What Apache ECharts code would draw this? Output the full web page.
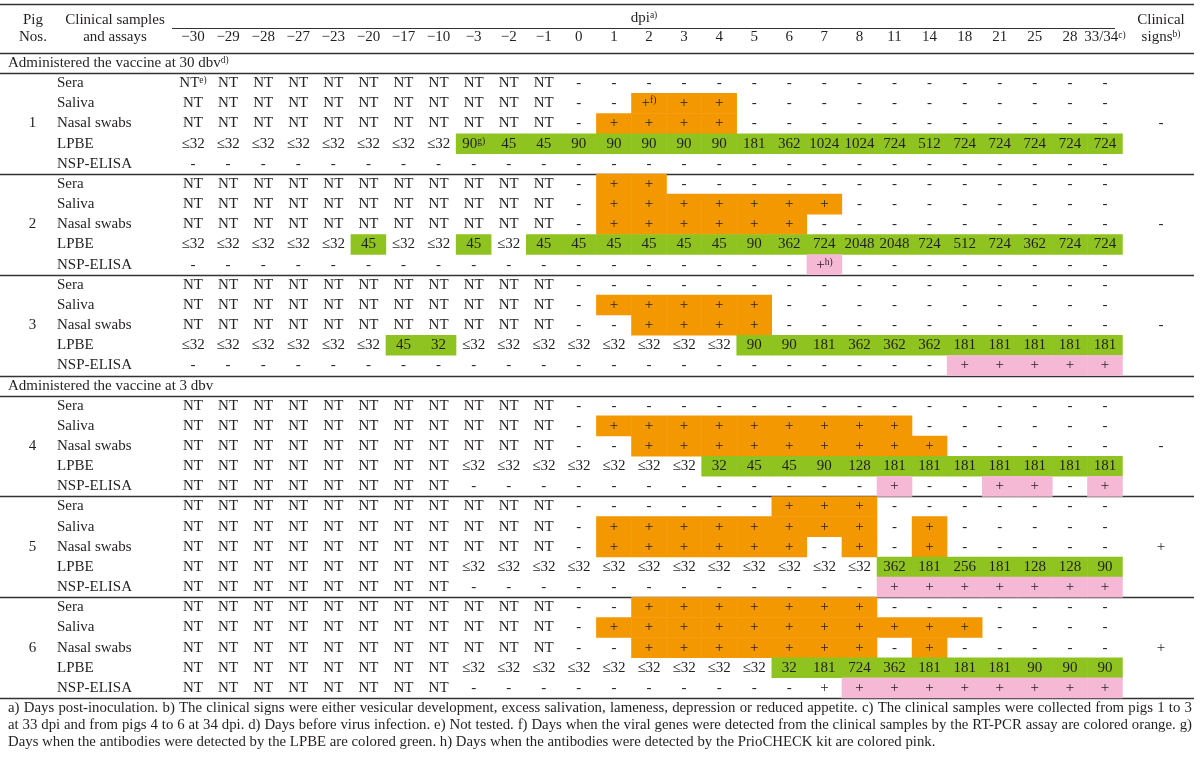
<!DOCTYPE html>
<html>
<head>
<meta charset="utf-8">
<script src="https://cdn.jsdelivr.net/npm/echarts@6/dist/echarts.min.js"></script>
<style>
  html, body { margin: 0; padding: 0; background: #fff; }
  #main { width: 1200px; height: 757px; }
</style>
</head>
<body>
<div id="main"></div>
<script>
// ---- data (a '^' starts a superscript note, o:/g:/p: marks an orange/green/pink cell) ----
const days = ['−30', '−29', '−28', '−27', '−23', '−20', '−17', '−10', '−3', '−2', '−1', '0',
  '1', '2', '3', '4', '5', '6', '7', '8', '11', '14', '18', '21', '25', '28', '33/34^c)'];
const samples = ['Sera', 'Saliva', 'Nasal swabs', 'LPBE', 'NSP-ELISA'];
const pigNos = ['1', '2', '3', '4', '5', '6'];
const sections = ['Administered the vaccine at 30 dbv^d)', 'Administered the vaccine at 3 dbv'];
const clinicalSigns = ['-', '-', '-', '-', '+', '+'];

const pig1 = [
  'NT^e) NT NT NT NT NT NT NT NT NT NT - - - - - - - - - - - - - - - -',
  'NT NT NT NT NT NT NT NT NT NT NT - - o:+^f) o:+ o:+ - - - - - - - - - - -',
  'NT NT NT NT NT NT NT NT NT NT NT - o:+ o:+ o:+ o:+ - - - - - - - - - - -',
  '≤32 ≤32 ≤32 ≤32 ≤32 ≤32 ≤32 ≤32 g:90^g) g:45 g:45 g:90 g:90 g:90 g:90 g:90 g:181 g:362 g:1024 g:1024 g:724 g:512 g:724 g:724 g:724 g:724 g:724',
  '- - - - - - - - - - - - - - - - - - - - - - - - - - -'
];
const pig2 = [
  'NT NT NT NT NT NT NT NT NT NT NT - o:+ o:+ - - - - - - - - - - - - -',
  'NT NT NT NT NT NT NT NT NT NT NT - o:+ o:+ o:+ o:+ o:+ o:+ o:+ - - - - - - - -',
  'NT NT NT NT NT NT NT NT NT NT NT - o:+ o:+ o:+ o:+ o:+ o:+ - - - - - - - - -',
  '≤32 ≤32 ≤32 ≤32 ≤32 g:45 ≤32 ≤32 g:45 ≤32 g:45 g:45 g:45 g:45 g:45 g:45 g:90 g:362 g:724 g:2048 g:2048 g:724 g:512 g:724 g:362 g:724 g:724',
  '- - - - - - - - - - - - - - - - - - p:+^h) - - - - - - - -'
];
const pig3 = [
  'NT NT NT NT NT NT NT NT NT NT NT - - - - - - - - - - - - - - - -',
  'NT NT NT NT NT NT NT NT NT NT NT - o:+ o:+ o:+ o:+ o:+ - - - - - - - - - -',
  'NT NT NT NT NT NT NT NT NT NT NT - - o:+ o:+ o:+ o:+ - - - - - - - - - -',
  '≤32 ≤32 ≤32 ≤32 ≤32 ≤32 g:45 g:32 ≤32 ≤32 ≤32 ≤32 ≤32 ≤32 ≤32 ≤32 g:90 g:90 g:181 g:362 g:362 g:362 g:181 g:181 g:181 g:181 g:181',
  '- - - - - - - - - - - - - - - - - - - - - - p:+ p:+ p:+ p:+ p:+'
];
const pig4 = [
  'NT NT NT NT NT NT NT NT NT NT NT - - - - - - - - - - - - - - - -',
  'NT NT NT NT NT NT NT NT NT NT NT - o:+ o:+ o:+ o:+ o:+ o:+ o:+ o:+ o:+ - - - - - -',
  'NT NT NT NT NT NT NT NT NT NT NT - - o:+ o:+ o:+ o:+ o:+ o:+ o:+ o:+ o:+ - - - - -',
  'NT NT NT NT NT NT NT NT ≤32 ≤32 ≤32 ≤32 ≤32 ≤32 ≤32 g:32 g:45 g:45 g:90 g:128 g:181 g:181 g:181 g:181 g:181 g:181 g:181',
  'NT NT NT NT NT NT NT NT - - - - - - - - - - - - p:+ - - p:+ p:+ - p:+'
];
const pig5 = [
  'NT NT NT NT NT NT NT NT NT NT NT - - - - - - o:+ o:+ o:+ - - - - - - -',
  'NT NT NT NT NT NT NT NT NT NT NT - o:+ o:+ o:+ o:+ o:+ o:+ o:+ o:+ - o:+ - - - - -',
  'NT NT NT NT NT NT NT NT NT NT NT - o:+ o:+ o:+ o:+ o:+ o:+ - o:+ - o:+ - - - - -',
  'NT NT NT NT NT NT NT NT ≤32 ≤32 ≤32 ≤32 ≤32 ≤32 ≤32 ≤32 ≤32 ≤32 ≤32 ≤32 g:362 g:181 g:256 g:181 g:128 g:128 g:90',
  'NT NT NT NT NT NT NT NT - - - - - - - - - - - - p:+ p:+ p:+ p:+ p:+ p:+ p:+'
];
const pig6 = [
  'NT NT NT NT NT NT NT NT NT NT NT - - o:+ o:+ o:+ o:+ o:+ o:+ o:+ - - - - - - -',
  'NT NT NT NT NT NT NT NT NT NT NT - o:+ o:+ o:+ o:+ o:+ o:+ o:+ o:+ o:+ o:+ o:+ - - - -',
  'NT NT NT NT NT NT NT NT NT NT NT - - o:+ o:+ o:+ o:+ o:+ o:+ o:+ - o:+ - - - - -',
  'NT NT NT NT NT NT NT NT ≤32 ≤32 ≤32 ≤32 ≤32 ≤32 ≤32 ≤32 ≤32 g:32 g:181 g:724 g:362 g:181 g:181 g:181 g:90 g:90 g:90',
  'NT NT NT NT NT NT NT NT - - - - - - - - - - + p:+ p:+ p:+ p:+ p:+ p:+ p:+ p:+'
];
const footnotes = [
  'a) Days post-inoculation. b) The clinical signs were either vesicular development, excess salivation, lameness, depression or reduced appetite. c) The clinical samples were collected from pigs 1 to 3',
  'at 33 dpi and from pigs 4 to 6 at 34 dpi. d) Days before virus infection. e) Not tested. f) Days when the viral genes were detected from the clinical samples by the RT-PCR assay are colored orange. g)',
  'Days when the antibodies were detected by the LPBE are colored green. h) Days when the antibodies were detected by the PrioCHECK kit are colored pink.'
];

// ---- styles ----
const F = '"Liberation Serif", "Times New Roman", "DejaVu Serif", serif';
const TXT = '#231f20';
const RULE = '#333';
const CELL = { o: '#f39800', g: '#8fc31f', p: '#f5b9d5' };
const FS = 15;
const RICH = {
  t: { fontFamily: F, fontSize: FS, color: TXT },
  sup: { fontFamily: F, fontSize: 9.5, color: TXT, verticalAlign: 'top', lineHeight: 9 },
  num: { fontFamily: F, fontSize: FS, color: TXT, width: 49, align: 'center' }
};

function rt(s, base) {
  const k = s.indexOf('^');
  if (k < 0) return '{' + base + '|' + s + '}';
  return '{' + base + '|' + s.slice(0, k) + '}{sup|' + s.slice(k + 1) + '}';
}

// ---- table rows: one y category per slot ----
const pigs = [pig1, pig2, pig3, pig4, pig5, pig6];
const slots = [];
pigs.forEach((pig, p) => {
  if (p % 3 === 0) slots.push({ sec: p / 3 });
  samples.forEach((s, i) => slots.push({ pig: p, sample: i }));
});
const yKeys = slots.map((s, i) => 'r' + i);

const cells = [];
const cellLabels = [];
slots.forEach((slot, y) => {
  if (slot.sec !== undefined) return;
  pigs[slot.pig][slot.sample].split(' ').forEach((tok, x) => {
    let color = 'rgba(255,255,255,0)';
    if (/^[ogp]:/.test(tok)) {
      color = CELL[tok[0]];
      tok = tok.slice(2);
    }
    cells.push({ value: [x, y, 1], itemStyle: { color: color } });
    cellLabels.push(rt(tok, 't'));
  });
});

function leftLabel(i) {
  const s = slots[i];
  if (s.sec !== undefined) return rt(sections[s.sec], 't');
  const num = s.sample === 2 ? pigNos[s.pig] : ' ';
  return '{num|' + num + '}{t|' + samples[s.sample] + '}';
}
function rightLabel(i) {
  const s = slots[i];
  if (s.sec !== undefined || s.sample !== 2) return '';
  return '{t|' + clinicalSigns[s.pig] + '}';
}

const chart = echarts.init(document.getElementById('main'), null, { renderer: 'canvas' });

chart.setOption({
  animation: false,
  textStyle: { fontFamily: F },
  grid: { left: 175.5, right: 77.5, top: 53, height: 645 },
  xAxis: {
    type: 'category',
    position: 'top',
    data: days,
    axisLine: { show: false },
    axisTick: { show: false },
    splitLine: { show: false },
    axisLabel: { interval: 0, margin: 8, formatter: v => rt(v, 't'), rich: RICH }
  },
  yAxis: [{
    type: 'category',
    data: yKeys,
    inverse: true,
    position: 'left',
    axisLine: { show: false },
    axisTick: { show: false },
    splitLine: { show: false },
    axisLabel: { interval: 0, margin: 167.5, align: 'left', formatter: (v, i) => leftLabel(i), rich: RICH }
  }, {
    type: 'category',
    data: yKeys,
    inverse: true,
    position: 'right',
    axisLine: { show: false },
    axisTick: { show: false },
    splitLine: { show: false },
    axisLabel: { interval: 0, margin: 38.5, align: 'center', formatter: (v, i) => rightLabel(i), rich: RICH }
  }],
  series: [{
    type: 'heatmap',
    data: cells,
    progressive: 0,
    itemStyle: { borderWidth: 0 },
    emphasis: { disabled: true },
    label: {
      show: true,
      formatter: p => cellLabels[p.dataIndex],
      rich: RICH
    }
  }]
});

// ---- rules, header and footnotes ----
const yc = k => chart.convertToPixel({ yAxisIndex: 0 }, yKeys[k]);
const band = yc(1) - yc(0);
const ruleYs = [];
slots.forEach((s, k) => {
  const prev = slots[k - 1];
  if (k === 0 || s.sec !== undefined || (prev && prev.sec !== undefined) || s.sample === 0) {
    const y = yc(k) - band / 2;
    if (!ruleYs.some(v => Math.abs(v - y) < 1)) ruleYs.push(y);
  }
});
ruleYs.push(yc(slots.length - 1) + band / 2);

const graphics = [];
const hline = (x1, x2, y, w) => graphics.push({
  type: 'line', silent: true,
  shape: { x1: x1, y1: Math.round(y) + 0.5, x2: x2, y2: Math.round(y) + 0.5 },
  style: { stroke: RULE, lineWidth: w }
});
hline(0, 1194, 4, 1.3);
hline(172, 1115, 28, 1);
ruleYs.forEach(y => hline(0, 1194, y, 1.3));

const htext = (txt, x, y) => graphics.push({
  type: 'text', silent: true, x: x, y: y,
  style: { text: txt, rich: RICH, align: 'center', verticalAlign: 'middle', fill: TXT, font: FS + 'px ' + F }
});
htext('{t|Pig}', 33, 20);
htext('{t|Nos.}', 33, 37);
htext('{t|Clinical samples}', 115, 20);
htext('{t|and assays}', 115, 37);
htext(rt('dpi^a)', 't'), 644, 18);
htext('{t|Clinical}', 1161, 20);
htext(rt('signs^b)', 't'), 1161, 37);

const FN_LEFT = 8, FN_RIGHT = 1192, FN_TOP = 708, FN_GAP = 17, FN_SIZE = 14.8;
const ctx = document.createElement('canvas').getContext('2d');
ctx.font = FN_SIZE + 'px ' + F;
footnotes.forEach((line, li) => {
  const y = FN_TOP + li * FN_GAP;
  const words = line.split(' ');
  const widths = words.map(w => ctx.measureText(w).width);
  const total = widths.reduce((a, b) => a + b, 0);
  let gap = ctx.measureText(' ').width;
  if (li < footnotes.length - 1) gap = (FN_RIGHT - FN_LEFT - total) / (words.length - 1);
  let x = FN_LEFT;
  words.forEach((w, i) => {
    graphics.push({
      type: 'text', silent: true, x: x, y: y,
      style: { text: w, fill: TXT, font: FN_SIZE + 'px ' + F, align: 'left', verticalAlign: 'middle' }
    });
    x += widths[i] + gap;
  });
});

chart.setOption({ graphic: graphics });
</script>
</body>
</html>
